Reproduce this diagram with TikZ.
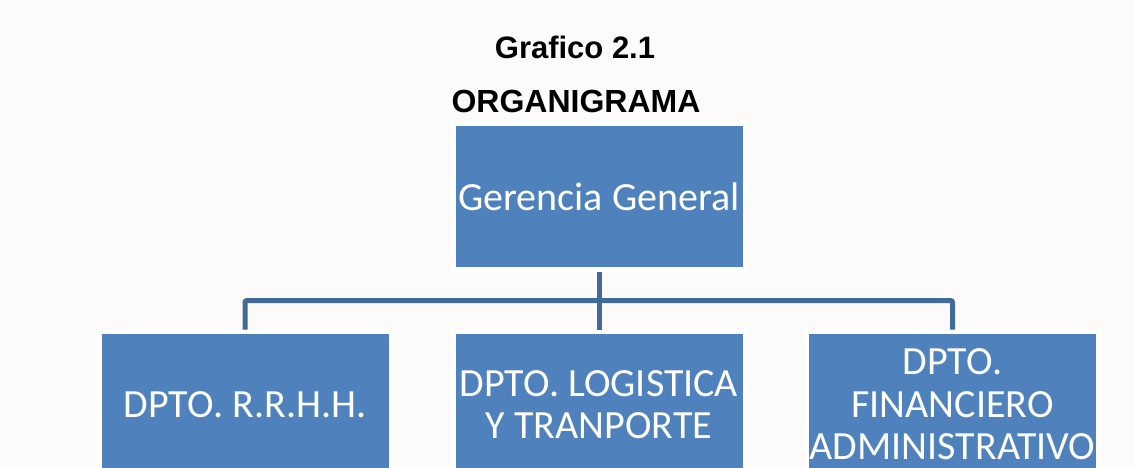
\documentclass[tikz,border=0pt]{standalone}
\usepackage{fontspec}
\newfontfamily\boxfont{Carlito}
\newfontfamily\titlefont{Liberation Sans}
\usepackage{tikz}
\usetikzlibrary{calc}
\definecolor{paper}{HTML}{FCFBF9}
\definecolor{boxblue}{HTML}{4F81BD}
\definecolor{linkblue}{HTML}{3F6A9A}
\tikzset{
  unit/.style={draw=white,line width=4.5pt,fill=boxblue,text=white,
    minimum width=291.5pt,minimum height=145.5pt,inner sep=0pt,
    align=center,font=\boxfont\fontsize{40}{42.5}\selectfont},
  link/.style={draw=linkblue,line width=5pt},
  heading/.style={anchor=base,font=\titlefont\bfseries\fontsize{31}{31}\selectfont}
}
\begin{document}
\begin{tikzpicture}[x=1pt,y=-1pt]
            \useasboundingbox (0,0) rectangle (1135,468);
            \fill[paper] (0,0) rectangle (1135,468);

            \node[heading] (title) at (575,59) {Grafico 2.1};
            \node[heading,font=\titlefont\bfseries\fontsize{32}{32}\selectfont] (subtitle) at (576,113) {ORGANIGRAMA};

            \node[unit] (gerencia) at (599,196.5) {Gerencia General};
            \node[unit] (rrhh) at (245,404.5) {DPTO. R.R.H.H.};
            \node[unit] (logistica) at (599,404.5) {DPTO. LOGISTICA\\Y TRANPORTE};
            \node[unit] (finanzas) at (952.5,404.5) {DPTO.\\FINANCIERO\\ADMINISTRATIVO};

            \coordinate (bus) at ($(gerencia.south)!.5!(logistica.north)$);
            \draw[link] (gerencia.south) -- (logistica.north);
            \draw[link,rounded corners=2pt] (rrhh.north) |- (bus) -| (finanzas.north);

        \end{tikzpicture}
\end{document}
